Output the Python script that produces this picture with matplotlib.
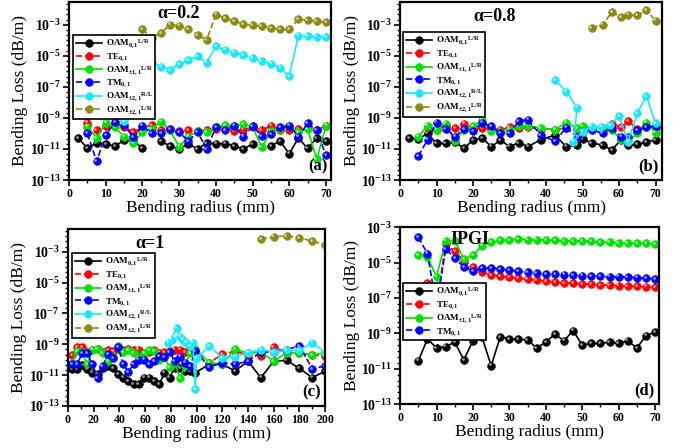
import numpy as np
import matplotlib
matplotlib.use("Agg")
import matplotlib.pyplot as plt
from matplotlib import transforms
from matplotlib.colors import to_rgb
from matplotlib.ticker import LogLocator, MultipleLocator, NullFormatter

plt.rcParams['font.family'] = 'Liberation Serif'
plt.rcParams['font.weight'] = 'bold'
plt.rcParams['mathtext.fontset'] = 'custom'
plt.rcParams['mathtext.rm'] = 'Liberation Serif:bold'
plt.rcParams['mathtext.it'] = 'Liberation Serif:bold'
plt.rcParams['mathtext.bf'] = 'Liberation Serif:bold'

# mode names, line colours and line styles
mode_labels = [r"OAM$_{0,1}$$^{L/R}$", r"TE$_{0,1}$", r"OAM$_{\pm1,1}$$^{L/R}$",
               r"TM$_{0,1}$", r"OAM$_{\pm2,1}$$^{R/L}$", r"OAM$_{\pm2,1}$$^{L/R}$"]
mode_colors = ['black', '#ff0000', '#00e000', '#0000ff', '#1ee6ff', '#8c8a14']
mode_styles = ['-', '--', '-', '--', '-', '--']

# all losses below are log10 of bending loss in dB/m
# ---- (a) alpha = 0.2
xa = [2.5, 5, 7.5, 10, 12.5, 15, 17.5, 20, 22.5, 25, 27.5, 30, 32.5, 35,
      37.5, 40, 42.5, 45, 47.5, 50, 52.5, 55, 57.5, 60, 62.5, 65, 67.5, 70]
a_oam01 = [-10.3, -10.95, -10.6, -10.7, -10.8, -10.45, -10.45, -10.95, np.nan, -10.5,
           -10.8, -11.0, -10.66, -11.0, -10.6, -10.65, -10.65, -10.8, -11.0, -10.68,
           np.nan, -10.8, -10.5, -11.3, -10.3, -10.95, -10.3, -10.5]
a_te01 = [-9.3, -9.77, -9.5, -9.4, -9.6, -9.9, -9.65, -9.45, -9.8, -9.75, -9.85, -9.8,
          -9.85, -9.8, -9.7, -9.6, -9.85, -9.75, -9.6, -9.8, -9.5, -9.8, -9.8, -9.7,
          -9.6, -9.8, -9.5]
a_oam11 = [-9.56, -10.3, -9.3, -9.6, -10.2, -10.6, -9.9, -9.7, -9.24, -9.8, -10.85, -10.2,
           -9.85, -9.9, -9.6, -9.45, -9.55, -9.4, -9.55, -10.9, -9.85, -9.7, -9.55, -9.9,
           -9.7, -11.66, -9.5]
a_tm01 = [-10.0, -11.8, -10.1, -9.28, -9.45, -10.25, -9.5, -10.0, -10.0, -9.7, -9.9, -10.5,
          -9.9, -11.0, -9.6, -9.8, -9.5, -10.2, -9.55, -10.15, -10.05, -9.6, -9.5, -10.2,
          -9.35, -9.8, -11.4]
a_oam21_rl = [-9.2, -5.8, -5.58, -5.43, -5.69, -5.9, -5.55, -5.3, -5.04, -5.44, -4.4, -4.6,
              -4.8, -4.97, -5.16, -5.34, -5.5, -5.76, -6.3, -3.7, -3.72, -3.76, -3.8]
a_oam21_lr = [-3.28, -3.86, -3.54, -3.0, -3.05, -3.3, -3.65, -3.97, -2.35, -2.57, -2.78,
              -2.95, -3.03, -3.1, -3.2, -3.3, -3.3, -2.63, -2.72, -2.78, -2.85]

# ---- (b) alpha = 0.8
xb = [2.5, 5, 7.5, 10, 12.5, 15, 17.5, 20, 22.5, 25, 27.5, 30, 32.5, 35, 38.5,
      42.5, 45.5, 48.5, 50, 52.5, 55.5, 58, 60.5, 62.5, 65, 67.5, 70]
b_oam01 = [-10.3, -10.37, -10.0, -10.63, -10.63, -10.55, -10.96, -10.42, -10.3, -10.85,
           -10.42, -10.85, -10.6, -10.85, -10.4, -10.1, -10.85, -10.75, -10.35, -10.6,
           -10.75, -11.06, -10.42, -10.75, -10.7, -10.55, -10.42]
b_te01 = [-9.56, -9.75, -9.5, -9.66, -9.37, -9.7, -9.65, -9.7, -9.75, -9.6, -9.65, -9.6,
          -9.7, -9.75, -9.65, -9.7, -9.6, -9.7, -9.65, -9.4, -9.6, -9.22, -9.7, -9.55,
          -9.65]
b_oam11 = [-10.2, -9.5, -9.75, -9.37, -10.5, -9.75, -9.55, -9.1, -9.85, -9.9, -9.75, -9.5,
           -9.5, -9.65, -9.75, -9.3, -9.65, -9.55, -9.65, -9.65, -9.75, -10.4, -10.5,
           -10.0, -9.3, -9.95]
b_tm01 = [-11.45, -10.4, -9.3, -9.7, -10.2, -9.7, -9.85, -9.3, -9.55, -9.97, -10.0, -9.2,
          -9.1, -10.1, -10.5, -9.63, -10.2, -9.9, -9.75, -10.0, -9.63, -10.2, -10.2, -9.8,
          -9.6, -9.5]
xb_rl = [42.5, 45.5, 48.5, 47.5, 50, 52.5, 55, 57.5, 60, 62.5, 65, 67.5, 70]
b_oam21_rl = [-6.55, -7.3, -8.33, -10.53, -9.88, -9.56, -9.56, -9.45, -8.87, -10.53,
              -8.7, -7.58, -9.34]
xb_lr = [52.5, 55.5, 58, 60.5, 62.5, 65, 67.5, 70]
b_oam21_lr = [-3.2, -3.0, -2.2, -2.5, -2.35, -2.4, -2.07, -2.74]

# ---- (c) alpha = 1
xc = [3, 7, 11, 15, 19, 23, 27, 31, 35, 39, 43, 47, 51, 55, 59, 63, 67, 71, 75, 79,
      83, 87, 91, 95, 99, 110, 120, 130, 140, 150, 160, 170, 180, 190, 200]
c_oam01 = [-10.63, -10.63, -10.35, -10.63, -10.85, -10.96, -10.53, -10.42, -10.53, -10.96,
           -11.17, -11.39, -11.6, -11.6, -11.17, -11.17, -11.39, -11.6, -10.85, -11.17,
           -10.53, -10.53, -10.75, -10.75, -10.85, -10.3, -10.3, -10.74, -10.1, -11.17,
           -10.1, -10.05, -10.57, -11.17, -10.74]
c_te01 = [-9.7, -9.2, -9.2, -9.5, -9.35, -9.3, -9.5, -9.4, -9.45, -9.3, -9.4, -9.3, -9.4,
          -9.35, -9.6, -9.5, -9.4, -9.55, -9.5, -9.45, -9.35, -9.35, -9.5, -9.4, -9.4,
          -10.2, -9.65, -9.45, -9.7, -9.75, -9.2, -9.55, -9.6, -9.7, -9.75]
c_oam11 = [-10.2, -9.45, -9.5, -10.3, -9.35, -9.3, -9.6, -10.1, -9.8, -9.1, -9.5, -9.4,
           -9.6, -9.9, -9.6, -9.4, -9.45, -10.0, -9.8, -10.5, -10.2, -11.2, -10.4, -9.6,
           -9.3, -10.2, -10.3, -9.3, -9.6, -9.5, -10.1, -9.55, -9.55, -9.7, -9.55]
c_tm01 = [-10.3, -10.3, -9.6, -9.6, -10.3, -11.2, -10.4, -9.65, -9.9, -9.2, -10.3, -10.8,
          -10.3, -10.0, -10.0, -10.3, -10.1, -9.75, -9.85, -9.5, -10.1, -9.8, -10.2, -10.4,
          -9.45, -10.48, -10.2, -10.3, -10.1, -9.5, -9.5, -9.35, -9.1, -10.6, -10.4]
xc_rl = [78, 80.5, 84.5, 87, 89.5, 92, 95, 97, 99, 100, 110, 120, 130, 140, 150, 160,
         170, 180, 190, 200]
c_oam21_rl = [-8.9, -8.7, -7.95, -8.5, -8.7, -8.9, -9.1, -8.9, -11.9, -9.9, -9.1, -9.9,
              -9.8, -9.55, -9.35, -9.5, -9.4, -9.4, -8.9, -9.55]
xc_lr = [150, 160, 170, 180, 190, 200]
c_oam21_lr = [-2.18, -2.03, -1.97, -2.1, -2.31, -2.57]

# ---- (d) IPGI
xd = [5, 7.5, 10, 12.5, 15, 17.5, 20, 22.5, 25, 27.5, 30, 32.5, 35, 37.5, 40, 42.5,
      45, 47.5, 50, 52.5, 55, 57.5, 60, 62.5, 65, 67.5, 70]
d_oam01 = [-10.55, -9.32, -9.83, -9.75, -9.5, -10.5, -9.42, -9.23, -10.83, -9.2, -9.32,
           -9.32, -9.38, -9.83, -9.5, -9.04, -9.42, -8.85, -9.66, -9.57, -9.57, -9.5,
           -9.57, -9.42, -9.83, -9.13, -8.94]
d_te01 = [-6.15, -7.3, -3.98, -4.36, -4.9, -5.26, -5.55, -5.7, -5.77, -5.83, -5.88,
          -5.94, -6.0, -6.06, -6.1, -6.15, -6.17, -6.2, -6.23, -6.26, -6.29, -6.3, -6.32,
          -6.34, -6.36, -6.4]
d_oam11 = [-4.57, -4.7, -5.8, -3.76, -3.76, -4.8, -4.6, -4.04, -3.85, -3.75, -3.72,
           -3.66, -3.7, -3.7, -3.72, -3.75, -3.78, -3.78, -3.8, -3.8, -3.85, -3.85, -3.9,
           -3.9, -3.92, -3.92, -3.94]
d_tm01 = [-3.57, -4.5, -7.5, -4.23, -4.75, -5.26, -5.5, -5.32, -5.32, -5.36, -5.42, -5.5,
          -5.55, -5.58, -5.64, -5.65, -5.68, -5.7, -5.74, -5.75, -5.78, -5.8, -5.8, -5.83,
          -5.85, -5.88, -5.92]


def tail(x, vals):
    # a series that starts later than the first radius ends at the same radius
    return x[len(x) - len(vals):]


def lighter(color, amount=0.6):
    r, g, b = to_rgb(color)
    return (r + (1 - r) * amount, g + (1 - g) * amount, b + (1 - b) * amount)


def draw_panel(ax, series, xlim, ylim, xmajor, xminor, tag, title, title_xy, leg_anchor):
    # small offset highlight so the markers look like shaded balls
    shine = transforms.offset_copy(ax.transData, fig=ax.figure, x=-0.9, y=0.9, units='points')
    handles = []
    for i, (x, v) in enumerate(series):
        y = 10.0 ** np.asarray(v, dtype=float)
        line, = ax.plot(x, y, color=mode_colors[i], ls=mode_styles[i], lw=1.2, marker='o',
                        ms=5.6, mfc=mode_colors[i], mec=mode_colors[i], mew=0.4)
        ax.plot(x, y, ls='none', marker='o', ms=2.0, mfc=lighter(mode_colors[i]),
                mew=0, transform=shine)
        handles.append(line)
    ax.set_yscale('log')
    ax.set_xlim(*xlim)
    ax.set_ylim(*ylim)
    ax.yaxis.set_minor_locator(LogLocator(base=10.0, subs=(1.0, 2.15, 4.64), numticks=30))
    ax.yaxis.set_minor_formatter(NullFormatter())
    ax.set_yticks([10.0 ** e for e in range(-13, -2, 2)])
    ax.set_yticklabels([r"$\mathdefault{10^{%d}}$" % e for e in range(-13, -2, 2)])
    ax.xaxis.set_major_locator(MultipleLocator(xmajor))
    ax.xaxis.set_minor_locator(MultipleLocator(xminor))
    ax.tick_params(axis='y', which='major', labelsize=10, length=4, width=1.2, pad=2)
    ax.tick_params(axis='x', which='major', labelsize=8.5, length=4, width=1.2, pad=2)
    ax.tick_params(which='minor', length=2.5, width=1.0)
    for s in ax.spines.values():
        s.set_linewidth(1.6)
    ax.set_xlabel('Bending radius (mm)', fontsize=12.5, labelpad=0)
    ax.set_ylabel('Bending Loss (dB/m)', fontsize=12.5, labelpad=1)
    ax.text(0.985, 0.03, tag, transform=ax.transAxes, ha='right', va='bottom', fontsize=12)
    ax.text(title_xy[0], title_xy[1], title, transform=ax.transAxes,
            ha='center', va='center', fontsize=13)
    leg = ax.legend(handles, mode_labels[:len(series)], loc='upper left',
                    bbox_to_anchor=leg_anchor, fontsize=6.5, handlelength=2.9,
                    handletextpad=0.4, labelspacing=0.12, borderpad=0.3, numpoints=1,
                    fancybox=False, framealpha=1, edgecolor='black', borderaxespad=0)
    leg.get_frame().set_linewidth(1.2)


fig = plt.figure(figsize=(6.84, 4.48), dpi=100)
ax_a = fig.add_axes([0.101, 0.598, 0.383, 0.398])
ax_b = fig.add_axes([0.585, 0.598, 0.383, 0.398])
ax_c = fig.add_axes([0.0994, 0.094, 0.376, 0.395])
ax_d = fig.add_axes([0.585, 0.098, 0.378, 0.395])

draw_panel(ax_a, [(xa, a_oam01), (tail(xa, a_te01), a_te01), (tail(xa, a_oam11), a_oam11),
                  (tail(xa, a_tm01), a_tm01), (tail(xa, a_oam21_rl), a_oam21_rl),
                  (tail(xa, a_oam21_lr), a_oam21_lr)],
           (0, 71.4), (1e-13, 3e-2), 10, 5, '(a)', 'α=0.2', (0.42, 0.935), (0.015, 0.815))
draw_panel(ax_b, [(xb, b_oam01), (tail(xb, b_te01), b_te01), (tail(xb, b_oam11), b_oam11),
                  (tail(xb, b_tm01), b_tm01), (xb_rl, b_oam21_rl), (xb_lr, b_oam21_lr)],
           (0, 71.8), (1e-13, 3e-2), 10, 5, '(b)', 'α=0.8', (0.36, 0.915), (0.011, 0.83))
draw_panel(ax_c, [(xc, c_oam01), (xc, c_te01), (xc, c_oam11), (xc, c_tm01),
                  (xc_rl, c_oam21_rl), (xc_lr, c_oam21_lr)],
           (0, 200), (1e-13, 3e-2), 20, 10, '(c)', 'α=1', (0.32, 0.915), (0.016, 0.864))
draw_panel(ax_d, [(xd, d_oam01), (tail(xd, d_te01), d_te01), (xd, d_oam11), (xd, d_tm01)],
           (0, 71), (1e-13, 1e-3), 10, 5, '(d)', 'IPGI', (0.27, 0.93), (0.012, 0.684))

fig.savefig('out.png', dpi=100)
